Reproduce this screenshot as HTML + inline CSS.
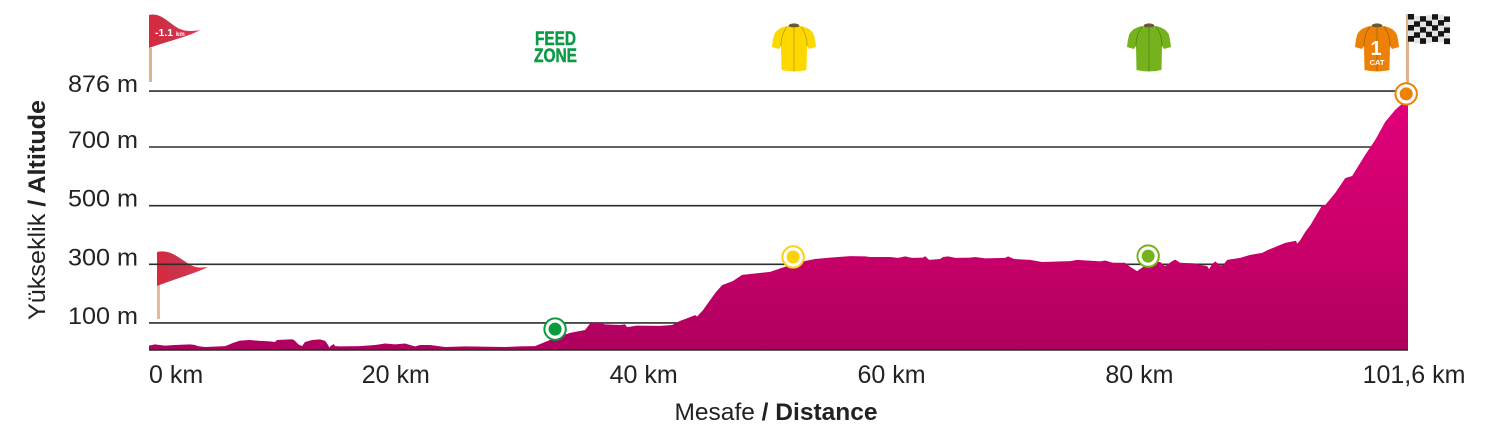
<!DOCTYPE html>
<html lang="tr">
<head>
<meta charset="utf-8">
<title>Elevation profile</title>
<style>
html,body{margin:0;padding:0;background:#fff;width:1488px;height:437px;overflow:hidden}
svg{display:block;font-family:"Liberation Sans",sans-serif}
</style>
</head>
<body>
<svg id="chart" width="1488" height="437" viewBox="0 0 1488 437" xmlns="http://www.w3.org/2000/svg">
  <defs>
    <linearGradient id="profileFill" gradientUnits="userSpaceOnUse" x1="0" y1="95" x2="0" y2="350">
      <stop offset="0" stop-color="#e2007a"/>
      <stop offset="0.6" stop-color="#c90069"/>
      <stop offset="1" stop-color="#ae005f"/>
    </linearGradient>
    <linearGradient id="flagFill" x1="0" y1="0" x2="1" y2="0">
      <stop offset="0" stop-color="#d8283f"/>
      <stop offset="0.4" stop-color="#c9344a"/>
      <stop offset="1" stop-color="#ea3348"/>
    </linearGradient>
    <symbol id="jersey" viewBox="0 0 44 50" overflow="visible">
      <ellipse cx="22" cy="3" rx="5.5" ry="2.6" fill="#6b5a35"/>
      <path d="M15,3 Q22,6 29,3 Q39,5 42,12 Q43.5,18 44,24 L37,26 L35,23 L34.5,47 Q22,50 9.5,47 L9,23 L7,26 L0,24 Q0.5,18 2,12 Q5,5 15,3 Z" fill="currentColor"/>
      <path d="M22,5 L22,48 M9,23 Q9,11 15,4 M35,23 Q35,11 29,4" fill="none" stroke="#000" stroke-opacity="0.28" stroke-width="0.8"/>
    </symbol>
  </defs>

  <g id="flags">
    <g>
      <rect x="149" y="48" width="3" height="34" fill="#dcb48e"/>
      <path d="M149,15 C162,12 170,25 180,29 C187,32 194,31 200,30 C190,36 172,40 149,48 Z" fill="url(#flagFill)"/>
      <text x="155" y="36" font-size="10.5" font-weight="700" fill="#fff">-1.1 <tspan font-size="6">km</tspan></text>
    </g>
    <g>
      <rect x="157" y="284" width="3" height="35" fill="#e3bd9a"/>
      <path d="M157,252 C170,249 179,258 189,264 C195,268 201,268 208,267 C196,273 178,278 157,286 Z" fill="url(#flagFill)"/>
    </g>
  </g>

  <g id="grid"></g>
  <path id="area" fill="url(#profileFill)"></path>
  <line id="baseline" stroke="#2a2a2a" stroke-width="1.6"></line>
  <g id="yTicks" font-size="24.5" fill="#222"></g>
  <g id="xTicks" font-size="25" fill="#222"></g>

  <text transform="translate(45,210) rotate(-90)" text-anchor="middle" font-size="24" fill="#222" textLength="220" lengthAdjust="spacingAndGlyphs">Yükseklik <tspan font-weight="700">/ Altitude</tspan></text>
  <text x="776" y="420" text-anchor="middle" font-size="24" fill="#222" textLength="203" lengthAdjust="spacingAndGlyphs">Mesafe <tspan font-weight="700">/ Distance</tspan></text>

  <g font-weight="700" fill="#0b9a46" stroke="#0b9a46" stroke-width="0.5" font-size="19">
    <text x="535" y="45" textLength="41" lengthAdjust="spacingAndGlyphs">FEED</text>
    <text x="534" y="62" textLength="43" lengthAdjust="spacingAndGlyphs">ZONE</text>
  </g>

  <g>
    <use href="#jersey" x="772" y="23" width="44" height="50" color="#fdd800"/>
    <use href="#jersey" x="1127" y="23" width="44" height="50" color="#76b21d"/>
    <use href="#jersey" x="1355" y="23" width="44" height="50" color="#ed8106"/>
    <text x="1376" y="55" text-anchor="middle" font-size="20" font-weight="700" fill="#fff">1</text>
    <text x="1377" y="65" text-anchor="middle" font-size="7.5" font-weight="700" fill="#fff">CAT</text>
  </g>

  <g>
    <rect x="1406" y="14" width="3" height="70" fill="#dcb48e"/>
    <g id="checker"></g>
  </g>

  <g id="markers"></g>
</svg>

<script>
// Distance along the route (km)
const distanceKm = [0,0.48,1.29,2.10,3.31,3.71,3.95,4.52,6.13,6.38,6.78,7.35,8.15,8.96,9.77,10.17,10.33,11.38,11.62,11.78,12.03,12.35,12.59,13.16,13.80,14.21,14.45,14.53,14.77,14.93,15.01,15.42,17.03,18.24,19.05,19.85,20.66,21.07,21.47,21.87,22.68,23.89,25.50,28.73,29.94,31.15,31.96,32.77,33.98,35.19,35.59,36.08,36.80,38.01,38.42,38.58,39.39,41.24,42.21,42.86,43.66,44.07,44.23,44.71,45.68,46.25,47.13,47.86,50.12,51.09,52.54,53.75,54.96,56.58,57.79,58.19,59.81,60.45,61.02,61.58,62.47,62.63,62.95,63.84,64.08,64.49,65.05,66.26,66.67,67.47,69.09,69.33,69.81,71.11,72.07,74.33,74.90,76.76,77.16,77.72,78.21,78.77,79.18,79.74,80.23,80.63,81.60,82.00,82.57,82.81,83.21,84.42,84.67,85.39,85.55,85.80,86.04,86.44,86.68,87.01,88.06,88.86,89.83,90.31,90.88,91.69,92.57,92.65,92.90,93.30,93.70,94.67,94.91,95.72,96.53,97.09,98.14,98.95,99.76,100.57,101.21,101.6];
// Altitude at each distance (m)
const altitudeM = [23,27,23,25,27,25,21,18,21,25,32,40,42,39,37,35,42,44,44,39,28,21,35,42,44,39,25,16,25,28,21,20,21,25,30,27,30,25,20,25,25,18,20,18,20,21,35,49,66,76,98,103,95,93,95,86,91,90,93,107,120,127,122,144,202,229,243,264,274,288,308,318,323,328,327,325,325,322,327,322,323,328,315,318,325,327,322,323,325,320,322,327,318,315,308,311,315,310,313,306,305,305,291,277,291,308,308,294,311,316,305,303,299,294,284,301,310,296,298,315,322,332,339,349,359,373,380,370,382,410,432,502,502,543,594,601,673,722,779,817,839,849];
// Axis ticks
const yTickValues = [100,300,500,700,876];
const yTickLabels = ["100 m","300 m","500 m","700 m","876 m"];
const xTickValues = [0,20,40,60,80,101.6];
const xTickLabels = ["0 km","20 km","40 km","60 km","80 km","101,6 km"];
// Checkpoints
const checkpointKm = [32.77,51.98,80.63,101.45];
const checkpointAltitude = [79,325,328,867];
const checkpointNames = ["feed-zone-marker","yellow-jersey-marker","green-jersey-marker","summit-marker"];
const checkpointColors = ["#0b9a3e","#fdd20a","#76b21d","#ed8106"];

const SVGNS = "http://www.w3.org/2000/svg";
function xScale(km){ return 149 + km * 12.392; }
function yScale(m){
  // The source graphic stretches the band above 700 m slightly
  return m <= 700 ? 352.3 - m * 0.2933 : 147 - (m - 700) * 0.318;
}
function make(tag, attrs, parent){
  const el = document.createElementNS(SVGNS, tag);
  for (const k in attrs) el.setAttribute(k, attrs[k]);
  parent.appendChild(el);
  return el;
}

// Gridlines and y tick labels
const gridGroup = document.getElementById("grid");
const yTickGroup = document.getElementById("yTicks");
yTickValues.forEach(function(v, i){
  const line = make("line", {x1:xScale(0), x2:xScale(101.6), y1:yScale(v), y2:yScale(v), stroke:"#2e2e2e", "stroke-width":1.6}, gridGroup);
  
  
  const label = make("text", {x:138, y:yScale(v) + 1, "text-anchor":"end", textLength:70, lengthAdjust:"spacingAndGlyphs"}, yTickGroup);
  
  
  label.textContent = yTickLabels[i];
});

// Area
const floorY = 350;
let d = "M" + xScale(distanceKm[0]).toFixed(1) + "," + floorY;
distanceKm.forEach(function(km, i){
  d += " L" + xScale(km).toFixed(1) + "," + yScale(altitudeM[i]).toFixed(1);
});
d += " L" + xScale(distanceKm[distanceKm.length - 1]).toFixed(1) + "," + floorY + " Z";
document.getElementById("area").setAttribute("d", d);

const base = document.getElementById("baseline");
base.setAttribute("x1", xScale(0));
base.setAttribute("x2", xScale(101.6));
base.setAttribute("y1", floorY);
base.setAttribute("y2", floorY);

// X tick labels
const xTickGroup = document.getElementById("xTicks");
xTickValues.forEach(function(v, i){
  const first = i === 0;
  const last = i === xTickValues.length - 1;
  const label = make("text", {
    x: first ? xScale(v) : (last ? xScale(v) + 6 : xScale(v) - 1),
    y: 383,
    "text-anchor": first ? "start" : "middle"
  }, xTickGroup);
  
  
  label.textContent = xTickLabels[i];
});

// Checkpoint markers
const markerGroup = document.getElementById("markers");
checkpointKm.forEach(function(km, i){
  const cx = xScale(km), cy = yScale(checkpointAltitude[i]);
  const ring = make("circle", {cx:cx, cy:cy, r:10.7, fill:"#fff", stroke:checkpointColors[i], "stroke-width":2}, markerGroup);
  
  
  const dot = make("circle", {cx:cx, cy:cy, r:6.5, fill:checkpointColors[i]}, markerGroup);
  
  
});

// Chequered finish flag
const checker = document.getElementById("checker");
for (let c = 0; c < 7; c++) {
  for (let r = 0; r < 5; r++) {
    const wave = Math.sin(c * 1.05) * 1.6 + c * 0.4;
    const cell = make("rect", {x:1408 + c * 6, y:14 + r * 5.5 + wave, width:6, height:5.7, fill:(c + r) % 2 === 0 ? "#151515" : "#e4e4e4"}, checker);
    
    
  }
}
</script>
</body>
</html>
